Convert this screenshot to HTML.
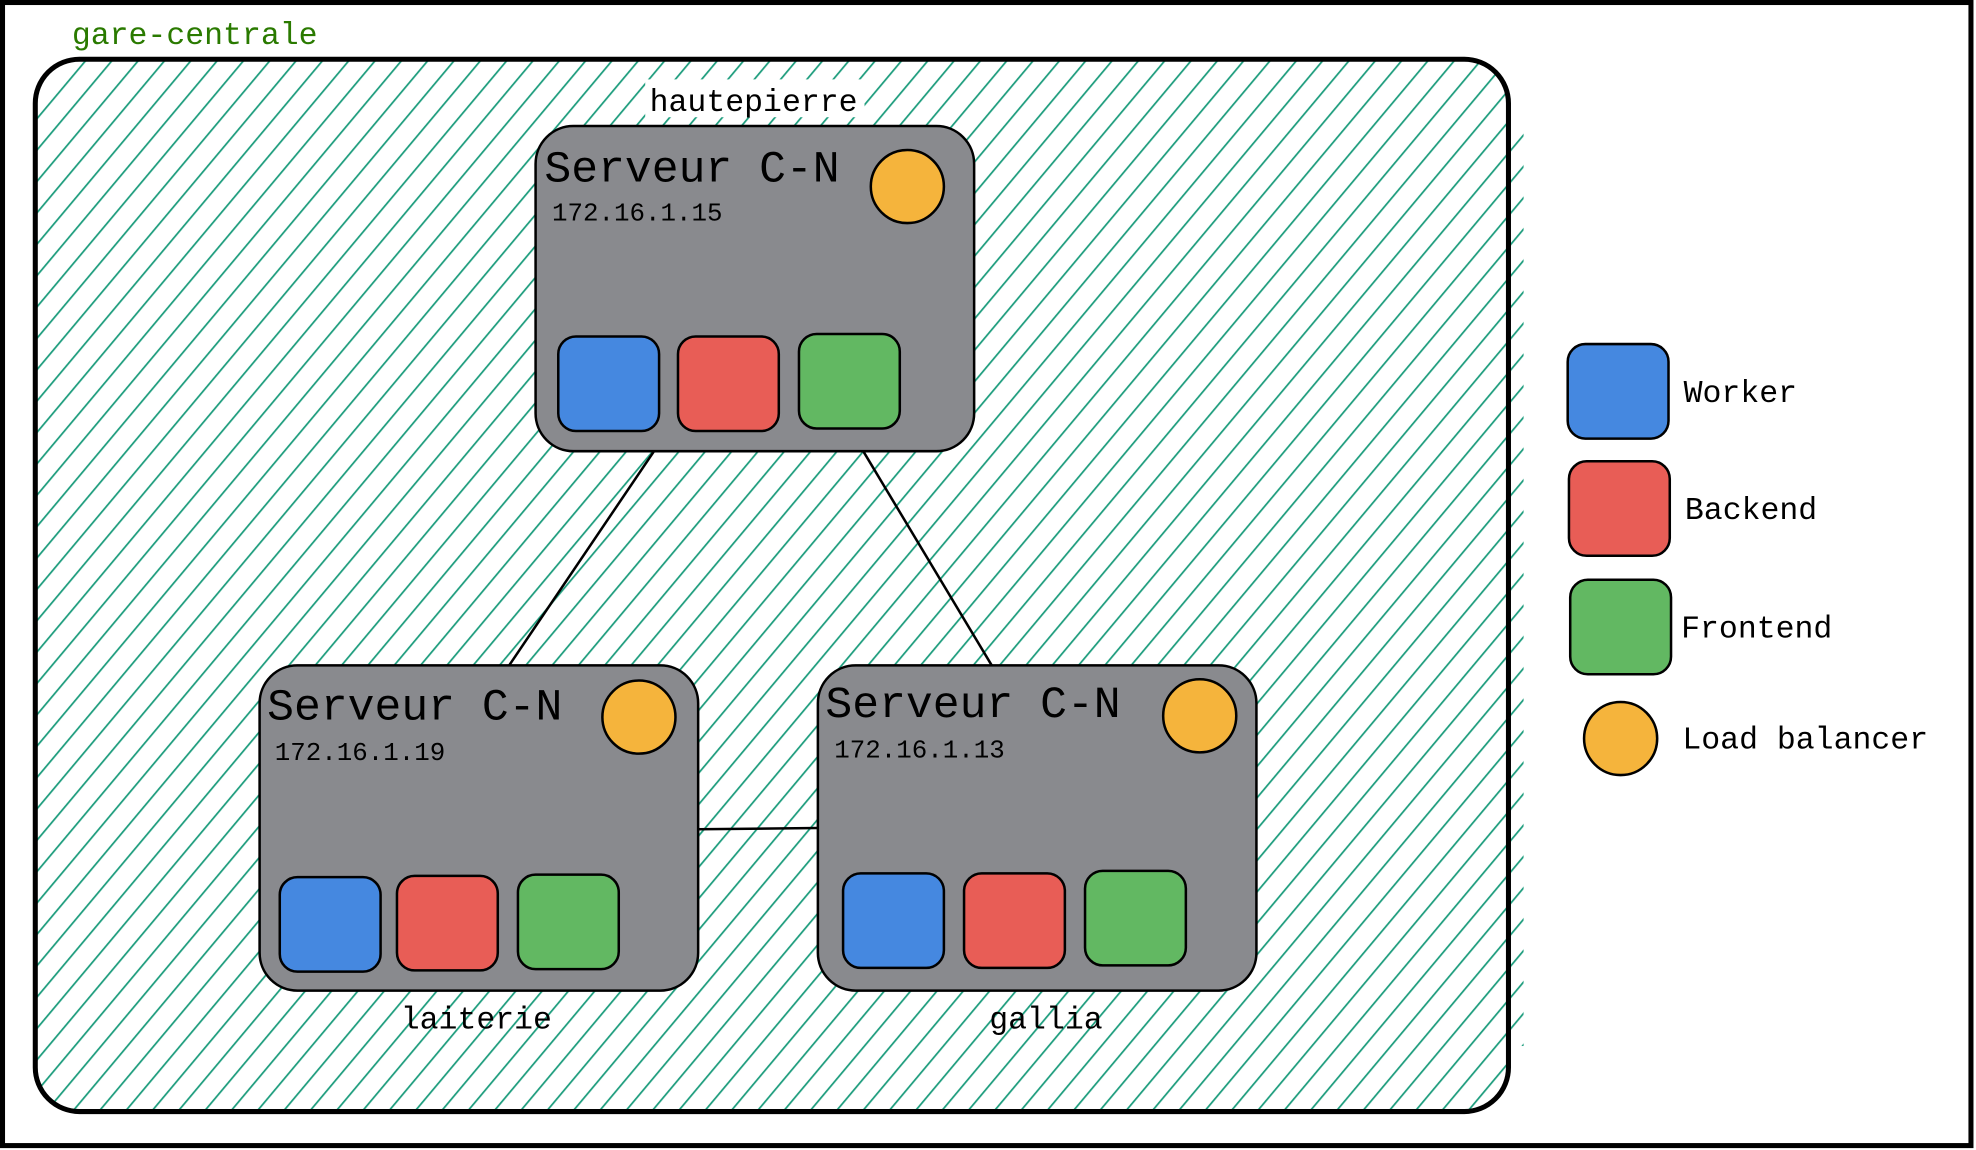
<!DOCTYPE html>
<html><head><meta charset="utf-8">
<style>
html,body{margin:0;padding:0;background:#fff;}
svg{display:block;}
text{font-family:"Liberation Mono",monospace;}
</style></head>
<body>
<svg width="1976" height="1150" viewBox="0 0 1568 912.5" preserveAspectRatio="none" xmlns="http://www.w3.org/2000/svg">
<defs>
<pattern id="h" width="16" height="16" patternUnits="userSpaceOnUse" patternTransform="rotate(40)">
<line x1="3" y1="0" x2="3" y2="16" stroke="#1c9c7c" stroke-width="1.4"/>
</pattern>
</defs>
<rect x="2" y="2" width="1562" height="907" fill="#fff" stroke="#000" stroke-width="4"/>
<text x="57" y="35" font-size="25" fill="#2a7a00">gare-centrale</text>
<rect x="1195" y="100" width="14" height="730" fill="url(#h)"/>
<rect x="28" y="47" width="1169" height="835" rx="35" fill="url(#h)" stroke="#000" stroke-width="4"/>
<rect x="512" y="63" width="174" height="30" fill="#fff"/>
<text x="598" y="88" font-size="25" text-anchor="middle" fill="#000">hautepierre</text>
<g stroke="#000" stroke-width="2">
<line x1="519" y1="358" x2="404" y2="528"/>
<line x1="685" y1="358" x2="787" y2="528"/>
<line x1="554" y1="658" x2="649" y2="657"/>
</g>
<g stroke="#000" stroke-width="2">
<rect x="425" y="100" width="348" height="258" rx="30" fill="#898a8e"/>
<rect x="206" y="528" width="348" height="258" rx="30" fill="#898a8e"/>
<rect x="649" y="528" width="348" height="258" rx="30" fill="#898a8e"/>
<circle cx="720" cy="148" r="29" fill="#f5b43c"/>
<circle cx="507" cy="569" r="29" fill="#f5b43c"/>
<circle cx="952" cy="568" r="29" fill="#f5b43c"/>
<rect x="443" y="267" width="80" height="75" rx="14" fill="#4588e0"/>
<rect x="538" y="267" width="80" height="75" rx="14" fill="#e85d56"/>
<rect x="634" y="265" width="80" height="75" rx="14" fill="#62b862"/>
<rect x="222" y="696" width="80" height="75" rx="14" fill="#4588e0"/>
<rect x="315" y="695" width="80" height="75" rx="14" fill="#e85d56"/>
<rect x="411" y="694" width="80" height="75" rx="14" fill="#62b862"/>
<rect x="669" y="693" width="80" height="75" rx="14" fill="#4588e0"/>
<rect x="765" y="693" width="80" height="75" rx="14" fill="#e85d56"/>
<rect x="861" y="691" width="80" height="75" rx="14" fill="#62b862"/>
<rect x="1244" y="273" width="80" height="75" rx="14" fill="#4588e0"/>
<rect x="1245" y="366" width="80" height="75" rx="14" fill="#e85d56"/>
<rect x="1246" y="460" width="80" height="75" rx="14" fill="#62b862"/>
<circle cx="1286" cy="586" r="29" fill="#f5b43c"/>
</g>
<g fill="#000">
<text x="432" y="144" font-size="35.5">Serveur C-N</text>
<text x="438" y="175" font-size="20.5">172.16.1.15</text>
<text x="212" y="571" font-size="35.5">Serveur C-N</text>
<text x="218" y="603" font-size="20.5">172.16.1.19</text>
<text x="655" y="569" font-size="35.5">Serveur C-N</text>
<text x="662" y="601" font-size="20.5">172.16.1.13</text>
<text x="378" y="816" font-size="25" text-anchor="middle">laiterie</text>
<text x="830" y="816" font-size="25" text-anchor="middle">gallia</text>
<text x="1336" y="319" font-size="25">Worker</text>
<text x="1337" y="412" font-size="25">Backend</text>
<text x="1334" y="506" font-size="25">Frontend</text>
<text x="1335" y="594" font-size="25">Load balancer</text>
</g>
</svg>
</body></html>
